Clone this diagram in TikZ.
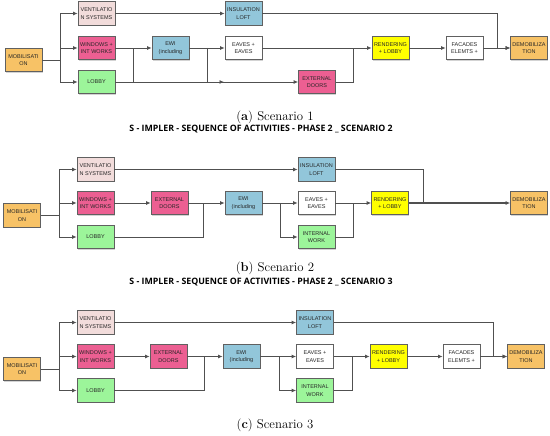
\documentclass[tikz,border=0pt]{standalone}
\usepackage{fontspec}
\newfontfamily\boxfont{Liberation Sans}
\newfontfamily\titlefont{Open Sans}
\usetikzlibrary{arrows.meta,shadows}
\definecolor{cOrange}{HTML}{F7C266}
\definecolor{cVent}{HTML}{F2DCDB}
\definecolor{cPink}{HTML}{EC5F92}
\definecolor{cGreen}{HTML}{9CF59A}
\definecolor{cBlue}{HTML}{92C6DA}
\definecolor{cYellow}{HTML}{FFFF00}
\definecolor{cLine}{HTML}{505050}
\definecolor{cBorder}{HTML}{606060}
\tikzset{
  act/.style={draw=cBorder, line width=0.7pt, rectangle, minimum width=37pt, minimum height=23.5pt,
    inner sep=0pt, align=center, font=\boxfont\fontsize{5.5}{7.6}\selectfont, text=black!85,
    drop shadow={shadow xshift=0.8pt, shadow yshift=-0.8pt, opacity=0.35, fill=black!50}},
  orange/.style={act, fill=cOrange},
  vent/.style={act, fill=cVent},
  pinkbox/.style={act, fill=cPink},
  greenbox/.style={act, fill=cGreen},
  bluebox/.style={act, fill=cBlue},
  whitebox/.style={act, fill=white},
  yellowbox/.style={act, fill=cYellow},
  conn/.style={draw=cLine, line width=0.85pt},
  arr/.style={conn, -{Latex[length=4.5pt,width=4pt]}},
  captxt/.style={font=\fontsize{12.8}{15}\selectfont},
  ttl/.style={font=\titlefont\bfseries\fontsize{8.8}{10}\selectfont}
}
\begin{document}
\begin{tikzpicture}[x=1pt,y=-1pt]
\useasboundingbox (0,0) rectangle (550,436);

% ---------------- Scenario 1 ----------------
\node[orange]    (m1)  at (23.5,60)   {MOBILISATI\\ON};
\node[vent]      (v1)  at (96.5,13.5) {VENTILATIO\\N SYSTEMS};
\node[pinkbox]   (w1)  at (96.5,48)   {WINDOWS +\\INT WORKS};
\node[greenbox]  (l1)  at (96.5,82)   {LOBBY};
\node[bluebox]   (e1)  at (170.5,48)  {EWI\\(including};
\node[whitebox]  (ea1) at (243.5,48)  {EAVES +\\EAVES};
\node[bluebox]   (in1) at (243.5,13.5){INSULATION\\LOFT};
\node[pinkbox]   (x1)  at (317,82)    {EXTERNAL\\DOORS};
\node[yellowbox] (r1)  at (390.5,48)  {RENDERING\\+ LOBBY};
\node[whitebox]  (f1)  at (464.5,48)  {FACADES\\ELEMTS +};
\node[orange]    (d1)  at (529,48)    {DEMOBILIZA\\TION};

\coordinate (t1) at (60,60);
\coordinate (j1a) at (133,48);
\coordinate (j1b) at (207,48);
\coordinate (a1) at (224,82);
\coordinate (j1c) at (353,48);
\coordinate (j1d) at (497,13.5);

\draw[conn] (m1.east) -- (t1);
\draw[conn] (t1 |- v1) -- (t1 |- l1);
\draw[arr] (t1 |- v1) -- (v1.west);
\draw[arr] (t1 |- w1) -- (w1.west);
\draw[arr] (t1 |- l1) -- (l1.west);
\draw[arr] (w1.east) -- (e1.west);
\draw[conn] (l1.east) -| (j1a);
\draw[arr] (l1.east) -- (a1);
\draw[arr] (e1.east) -- (ea1.west);
\draw[arr] (j1b) |- (x1.west);
\draw[arr] (v1.east) -- (in1.west);
\draw[arr] (ea1.east) -- (r1.west);
\draw[conn] (x1.east) -| (j1c);
\draw[arr] (in1.east) -- (j1d) |- (d1.west);
\draw[arr] (r1.east) -- (f1.west);
\draw[arr] (f1.east) -- (d1.west);

\node[captxt] (c1) at (275,117) {(\textbf{a}) Scenario 1};
\node[ttl] (h2) at (261,129) {S - IMPLER - SEQUENCE OF ACTIVITIES - PHASE 2 \_ SCENARIO 2};

% ---------------- Scenario 2 ----------------
\node[orange]    (m2)  at (22,215.5)   {MOBILISATI\\ON};
\node[vent]      (v2)  at (95.5,169.5) {VENTILATIO\\N SYSTEMS};
\node[pinkbox]   (w2)  at (95.5,203)   {WINDOWS +\\INT WORKS};
\node[greenbox]  (l2)  at (95.5,237)   {LOBBY};
\node[pinkbox]   (x2)  at (169.5,203)  {EXTERNAL\\DOORS};
\node[bluebox]   (e2)  at (243.5,203)  {EWI\\(including};
\node[bluebox]   (in2) at (316.5,169.5){INSULATION\\LOFT};
\node[whitebox]  (ea2) at (316.5,203)  {EAVES +\\EAVES};
\node[greenbox]  (iw2) at (316.5,237)  {INTERNAL\\WORK};
\node[yellowbox] (r2)  at (390,203)    {RENDERING\\+ LOBBY};
\node[orange]    (d2)  at (529,203)    {DEMOBILIZA\\TION};

\coordinate (t2) at (59,215.5);
\coordinate (j2a) at (203,203);
\coordinate (j2b) at (280,203);
\coordinate (j2c) at (353,203);
\coordinate (j2d) at (423,169.5);

\draw[conn] (m2.east) -- (t2);
\draw[conn] (t2 |- v2) -- (t2 |- l2);
\draw[arr] (t2 |- v2) -- (v2.west);
\draw[arr] (t2 |- w2) -- (w2.west);
\draw[arr] (t2 |- l2) -- (l2.west);
\draw[arr] (w2.east) -- (x2.west);
\draw[arr] (x2.east) -- (e2.west);
\draw[conn] (l2.east) -| (j2a);
\draw[arr] (e2.east) -- (ea2.west);
\draw[arr] (j2b) |- (iw2.west);
\draw[arr] (v2.east) -- (in2.west);
\draw[arr] (ea2.east) -- (r2.west);
\draw[conn] (iw2.east) -| (j2c);
\draw[conn] (in2.east) -- (j2d) -- (j2d |- d2);
\draw[arr, line width=1.1pt] (r2.east) -- (d2.west);

\node[captxt] (c2) at (275,268) {(\textbf{b}) Scenario 2};
\node[ttl] (h3) at (261,282.5) {S - IMPLER - SEQUENCE OF ACTIVITIES - PHASE 2 \_ SCENARIO 3};

% ---------------- Scenario 3 ----------------
\node[orange]    (m3)  at (22,369)     {MOBILISATI\\ON};
\node[vent]      (v3)  at (95.5,322.5) {VENTILATIO\\N SYSTEMS};
\node[pinkbox]   (w3)  at (95.5,356.5) {WINDOWS +\\INT WORKS};
\node[greenbox]  (l3)  at (95.5,390.5) {LOBBY};
\node[pinkbox]   (x3)  at (168.5,356.5){EXTERNAL\\DOORS};
\node[bluebox]   (e3)  at (241.5,356.5){EWI\\(including};
\node[bluebox]   (in3) at (315,322.5)  {INSULATION\\LOFT};
\node[whitebox]  (ea3) at (315,356.5)  {EAVES +\\EAVES};
\node[greenbox]  (iw3) at (315,390.5)  {INTERNAL\\WORK};
\node[yellowbox] (r3)  at (388.5,356.5){RENDERING\\+ LOBBY};
\node[whitebox]  (f3)  at (461.5,356.5){FACADES\\ELEMTS +};
\node[orange]    (d3)  at (526,356.5)  {DEMOBILIZA\\TION};

\coordinate (t3) at (59,369);
\coordinate (j3a) at (204,356.5);
\coordinate (j3b) at (279,356.5);
\coordinate (j3c) at (352,356.5);
\coordinate (j3d) at (493,322.5);

\draw[conn] (m3.east) -- (t3);
\draw[conn] (t3 |- v3) -- (t3 |- l3);
\draw[arr] (t3 |- v3) -- (v3.west);
\draw[arr] (t3 |- w3) -- (w3.west);
\draw[arr] (t3 |- l3) -- (l3.west);
\draw[arr] (w3.east) -- (x3.west);
\draw[arr] (x3.east) -- (e3.west);
\draw[conn] (l3.east) -| (j3a);
\draw[arr] (e3.east) -- (ea3.west);
\draw[arr] (j3b) |- (iw3.west);
\draw[arr] (v3.east) -- (in3.west);
\draw[arr] (ea3.east) -- (r3.west);
\draw[conn] (iw3.east) -| (j3c);
\draw[arr] (in3.east) -- (j3d) |- (d3.west);
\draw[arr] (r3.east) -- (f3.west);
\draw[arr] (f3.east) -- (d3.west);

\node[captxt] (c3) at (275,425) {(\textbf{c}) Scenario 3};
\end{tikzpicture}
\end{document}
